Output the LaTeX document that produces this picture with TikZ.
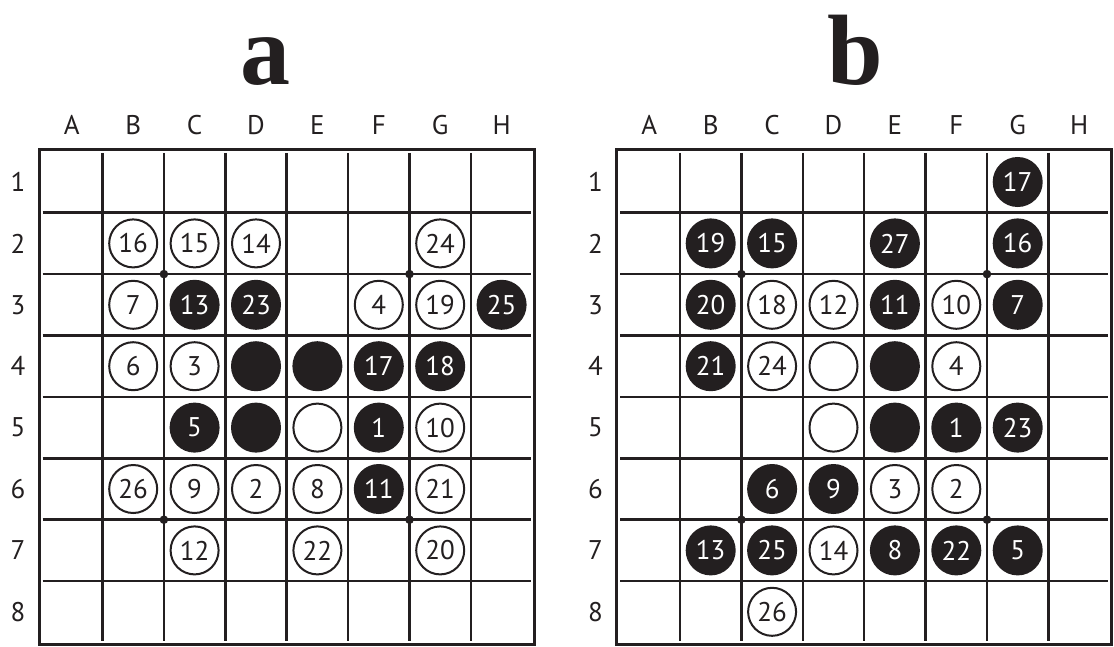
\documentclass[tikz,border=0pt]{standalone}
\usepackage{fontspec}
\setsansfont{PT Sans}
\setmainfont{Liberation Serif}
\usepackage{tikz}
\usetikzlibrary{positioning}
\definecolor{ink}{HTML}{231F20}
\tikzset{
    wdisk/.style={circle, draw=ink, line width=2pt, fill=white, minimum size=48pt, inner sep=0pt,
        text=ink, font=\sffamily\fontsize{27}{27}\selectfont},
    bdisk/.style={wdisk, fill=ink, text=white},
    gridline/.style={draw=ink, line width=2.5pt},
    frameline/.style={draw=ink, line width=3pt},
    axislabel/.style={text=ink, font=\sffamily\fontsize{27}{27}\selectfont},
    boardtitle/.style={anchor=base, text=ink, font=\bfseries\fontsize{100}{100}\selectfont}
}

\begin{document}
\begin{tikzpicture}[x=1pt, y=-1pt]
    \useasboundingbox (0,0) rectangle (1114,646);
    % titles
    \node[boardtitle] (title-a) at (265,84) {a};
    \node[boardtitle] (title-b) at (855,84) {b};
    % the two boards
    \foreach \bd/\ox in {a/41.1, b/618.6} {
        \draw[frameline] (\ox-2,149.3) rectangle (\ox+493.2,644.5);
        \foreach \k in {1,...,7} {
            \draw[gridline] (\ox+\k*61.4,152.8) -- (\ox+\k*61.4,641);
            \draw[gridline] (\ox+1.5,151.3+\k*61.4) -- (\ox+489.7,151.3+\k*61.4);
        }
        \foreach \i/\j in {2/2, 6/2, 2/6, 6/6}
            \fill[ink] (\ox+\i*61.4,151.3+\j*61.4) circle (4.3);
        \foreach \l [count=\i] in {A,B,C,D,E,F,G,H}
            \node[axislabel] (\bd-col-\l) at (\ox+\i*61.4-30.7,125) {\l};
        \foreach \i in {1,...,8}
            \node[axislabel] (\bd-row-\i) at (\ox-23,151.3+\i*61.4-30.7) {\i};
    }
    % board a: white discs
    \foreach \c/\r/\n in {2/2/16, 3/2/15, 4/2/14, 7/2/24, 2/3/7, 6/3/4, 7/3/19,
            2/4/6, 3/4/3, 7/5/10, 2/6/26, 3/6/9, 4/6/2, 5/6/8, 7/6/21,
            3/7/12, 5/7/22, 7/7/20}
        \node[wdisk] (a-\c-\r) at (41.1+\c*61.4-30.7,151.3+\r*61.4-30.7) {\n};
    % board a: black discs
    \foreach \c/\r/\n in {3/3/13, 4/3/23, 8/3/25, 6/4/17, 7/4/18, 3/5/5, 6/5/1, 6/6/11}
        \node[bdisk] (a-\c-\r) at (41.1+\c*61.4-30.7,151.3+\r*61.4-30.7) {\n};
    % board a: unnumbered discs
    \foreach \c/\r in {4/4, 5/4, 4/5}
        \node[bdisk] (a-\c-\r) at (41.1+\c*61.4-30.7,151.3+\r*61.4-30.7) {};
    \node[wdisk] (a-5-5) at (41.1+5*61.4-30.7,151.3+5*61.4-30.7) {};
    % board b: white discs
    \foreach \c/\r/\n in {3/3/18, 4/3/12, 6/3/10, 3/4/24, 6/4/4, 5/6/3, 6/6/2,
            4/7/14, 3/8/26}
        \node[wdisk] (b-\c-\r) at (618.6+\c*61.4-30.7,151.3+\r*61.4-30.7) {\n};
    % board b: black discs
    \foreach \c/\r/\n in {7/1/17, 2/2/19, 3/2/15, 5/2/27, 7/2/16, 2/3/20, 5/3/11, 7/3/7,
            2/4/21, 6/5/1, 7/5/23, 3/6/6, 4/6/9, 2/7/13, 3/7/25, 5/7/8, 6/7/22, 7/7/5}
        \node[bdisk] (b-\c-\r) at (618.6+\c*61.4-30.7,151.3+\r*61.4-30.7) {\n};
    % board b: unnumbered discs
    \foreach \c/\r in {4/4, 4/5}
        \node[wdisk] (b-\c-\r) at (618.6+\c*61.4-30.7,151.3+\r*61.4-30.7) {};
    \foreach \c/\r in {5/4, 5/5}
        \node[bdisk] (b-\c-\r) at (618.6+\c*61.4-30.7,151.3+\r*61.4-30.7) {};
\end{tikzpicture}
\end{document}
